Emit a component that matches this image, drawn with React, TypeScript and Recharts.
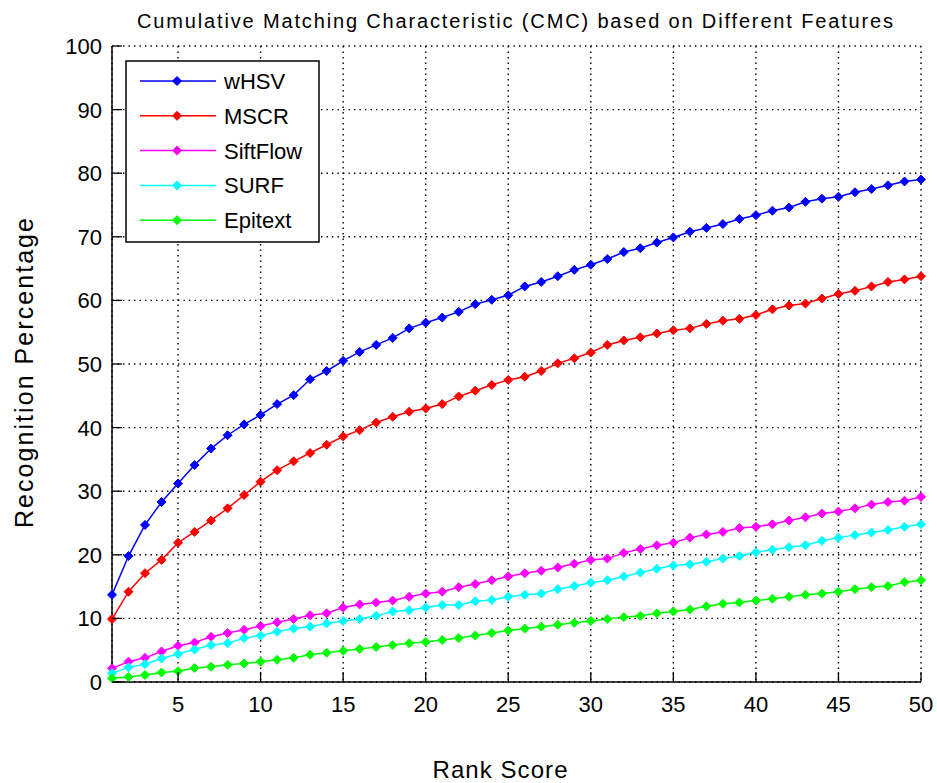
import { CartesianGrid, Customized, Legend, Line, LineChart, XAxis, YAxis } from 'recharts'

const ranks = [
  1, 2, 3, 4, 5, 6, 7, 8, 9, 10, 11, 12, 13, 14, 15, 16, 17, 18, 19, 20, 21, 22, 23, 24, 25,
  26, 27, 28, 29, 30, 31, 32, 33, 34, 35, 36, 37, 38, 39, 40, 41, 42, 43, 44, 45, 46, 47, 48, 49, 50,
]

const wHSV = [
  13.7, 19.8, 24.7, 28.3, 31.2, 34.1, 36.7, 38.8, 40.5, 42.0, 43.7, 45.1, 47.6, 48.9, 50.5, 51.9, 53.0,
  54.1, 55.6, 56.5, 57.3, 58.2, 59.4, 60.1, 60.8, 62.2, 62.9, 63.8, 64.8, 65.6, 66.5, 67.6, 68.2, 69.1,
  69.9, 70.8, 71.4, 72.0, 72.8, 73.4, 74.1, 74.6, 75.5, 76.0, 76.3, 77.0, 77.5, 78.1, 78.7, 79.0,
]
const mscr = [
  9.9, 14.2, 17.1, 19.2, 21.9, 23.6, 25.4, 27.3, 29.4, 31.5, 33.3, 34.7, 36.0, 37.3, 38.6, 39.6, 40.8,
  41.7, 42.5, 43.0, 43.7, 44.9, 45.8, 46.7, 47.5, 48.0, 48.9, 50.1, 50.9, 51.8, 53.0, 53.7, 54.2, 54.8,
  55.3, 55.6, 56.3, 56.8, 57.1, 57.7, 58.6, 59.2, 59.5, 60.3, 61.0, 61.5, 62.2, 62.9, 63.3, 63.8,
]
const siftFlow = [
  2.15, 3.2, 3.8, 4.8, 5.7, 6.2, 7.1, 7.7, 8.2, 8.8, 9.4, 9.9, 10.5, 10.8, 11.7, 12.2, 12.5, 12.8, 13.4,
  13.9, 14.2, 14.9, 15.4, 16.0, 16.6, 17.1, 17.5, 18.0, 18.6, 19.2, 19.4, 20.3, 20.9, 21.5, 21.9, 22.7,
  23.2, 23.6, 24.2, 24.4, 24.8, 25.4, 25.9, 26.5, 26.8, 27.3, 27.9, 28.3, 28.5, 29.1,
]
const surf = [
  1.4, 2.3, 2.8, 3.7, 4.4, 5.1, 5.8, 6.1, 6.9, 7.3, 7.9, 8.4, 8.7, 9.2, 9.6, 9.9, 10.4, 11.1, 11.3, 11.7,
  12.1, 12.1, 12.7, 12.9, 13.4, 13.7, 13.9, 14.6, 15.1, 15.6, 16.0, 16.6, 17.2, 17.8, 18.3, 18.5, 18.9,
  19.4, 19.8, 20.4, 20.8, 21.2, 21.5, 22.2, 22.7, 23.1, 23.5, 23.9, 24.4, 24.8,
]
const epitext = [
  0.6, 0.8, 1.1, 1.5, 1.7, 2.2, 2.4, 2.7, 2.9, 3.2, 3.5, 3.8, 4.3, 4.6, 4.9, 5.2, 5.5, 5.8, 6.1, 6.3,
  6.6, 6.9, 7.3, 7.7, 8.1, 8.4, 8.7, 9.0, 9.3, 9.6, 9.9, 10.2, 10.4, 10.8, 11.1, 11.4, 11.9, 12.3, 12.5,
  12.8, 13.1, 13.4, 13.7, 13.9, 14.2, 14.6, 14.9, 15.1, 15.7, 16.0,
]

const xTicks = [5, 10, 15, 20, 25, 30, 35, 40, 45, 50]
const yTicks = [0, 10, 20, 30, 40, 50, 60, 70, 80, 90, 100]

const series = [
  { key: 'wHSV', name: 'wHSV', color: '#0000ff', values: wHSV },
  { key: 'mscr', name: 'MSCR', color: '#ff0000', values: mscr },
  { key: 'siftFlow', name: 'SiftFlow', color: '#ff00ff', values: siftFlow },
  { key: 'surf', name: 'SURF', color: '#00ffff', values: surf },
  { key: 'epitext', name: 'Epitext', color: '#00ff00', values: epitext },
]

const data = ranks.map((rank, i) => {
  const row: Record<string, number> = { rank }
  series.forEach((s) => {
    row[s.key] = s.values[i]
  })
  return row
})

const FONT = 'Arial, "Liberation Sans", sans-serif'

function diamond(cx: number, cy: number, r: number) {
  return `M${cx},${cy - r}L${cx + r},${cy}L${cx},${cy + r}L${cx - r},${cy}Z`
}

function makeDot(color: string) {
  return (props: any) => {
    const { cx, cy, index } = props
    if (cx == null || cy == null) return <g key={index} />
    return <path key={index} d={diamond(cx, cy, 4.5)} fill={color} stroke={color} strokeWidth={1} />
  }
}

function XTick({ x, y, payload }: any) {
  return (
    <g>
      <line x1={x} y1={y} x2={x} y2={y - 10} stroke="#000" strokeWidth={1.3} />
      <text x={x} y={y + 30} textAnchor="middle" fontSize={22} fontFamily={FONT} fill="#000">
        {payload.value}
      </text>
    </g>
  )
}

function YTick({ x, y, payload }: any) {
  return (
    <g>
      <line x1={x} y1={y} x2={x + 10} y2={y} stroke="#000" strokeWidth={1.3} />
      <text x={x - 10} y={y + 8} textAnchor="end" fontSize={22} fontFamily={FONT} fill="#000">
        {payload.value}
      </text>
    </g>
  )
}

function LegendBox() {
  return (
    <svg width={196} height={184} style={{ display: 'block' }}>
      <rect x={1} y={1} width={193} height={181} fill="#fff" stroke="#000" strokeWidth={1.5} />
      {series.map((s, i) => {
        const y = 21 + i * 34.8
        return (
          <g key={s.key}>
            <line x1={15} y1={y} x2={91} y2={y} stroke={s.color} strokeWidth={1.5} />
            <path d={diamond(52, y, 4.5)} fill={s.color} stroke={s.color} />
            <text x={99} y={y + 8} fontSize={22} fontFamily={FONT} fill="#000">
              {s.name}
            </text>
          </g>
        )
      })}
    </svg>
  )
}

export default function App() {
  return (
    <div style={{ position: 'absolute', left: 0, top: 0, width: 937, height: 783, background: '#fff' }}>
      <LineChart width={937} height={783} data={data} margin={{ top: 46, right: 16, bottom: 41, left: 12 }}>
        <CartesianGrid stroke="#000" strokeOpacity={1} strokeDasharray="1.4 4.1" strokeWidth={1.4} />
        <XAxis
          dataKey="rank"
          type="number"
          domain={[1, 50]}
          ticks={xTicks}
          height={60}
          tickSize={0}
          tickMargin={0}
          tickLine={false}
          tick={<XTick />}
          axisLine={{ stroke: '#000', strokeWidth: 1.5 }}
          interval={0}
        />
        <YAxis
          domain={[0, 100]}
          ticks={yTicks}
          width={100}
          tickSize={0}
          tickMargin={0}
          tickLine={false}
          tick={<YTick />}
          axisLine={{ stroke: '#000', strokeWidth: 1.5 }}
          interval={0}
        />
        <Legend
          layout="vertical"
          align="center"
          verticalAlign="middle"
          content={() => <LegendBox />}
          wrapperStyle={{ position: 'absolute', left: 125, top: 60, width: 196, height: 184 }}
        />
        {series.map((s) => (
          <Line
            key={s.key}
            dataKey={s.key}
            name={s.name}
            stroke={s.color}
            strokeWidth={1.5}
            dot={makeDot(s.color)}
            activeDot={false}
            isAnimationActive={false}
          />
        ))}
        <Customized
          component={() => (
            <g fontFamily={FONT} fill="#000">
              <text x={515} y={28} textAnchor="middle" fontSize={20} textLength={756} lengthAdjust="spacing">
                Cumulative Matching Characteristic (CMC) based on Different Features
              </text>
              <text
                x={24}
                y={373}
                textAnchor="middle"
                dominantBaseline="central"
                fontSize={25}
                textLength={310}
                lengthAdjust="spacing"
                transform="rotate(-90 24 373)"
              >
                Recognition Percentage
              </text>
              <text x={500} y={778} textAnchor="middle" fontSize={24} textLength={135} lengthAdjust="spacing">
                Rank Score
              </text>
            </g>
          )}
        />
      </LineChart>
    </div>
  )
}
